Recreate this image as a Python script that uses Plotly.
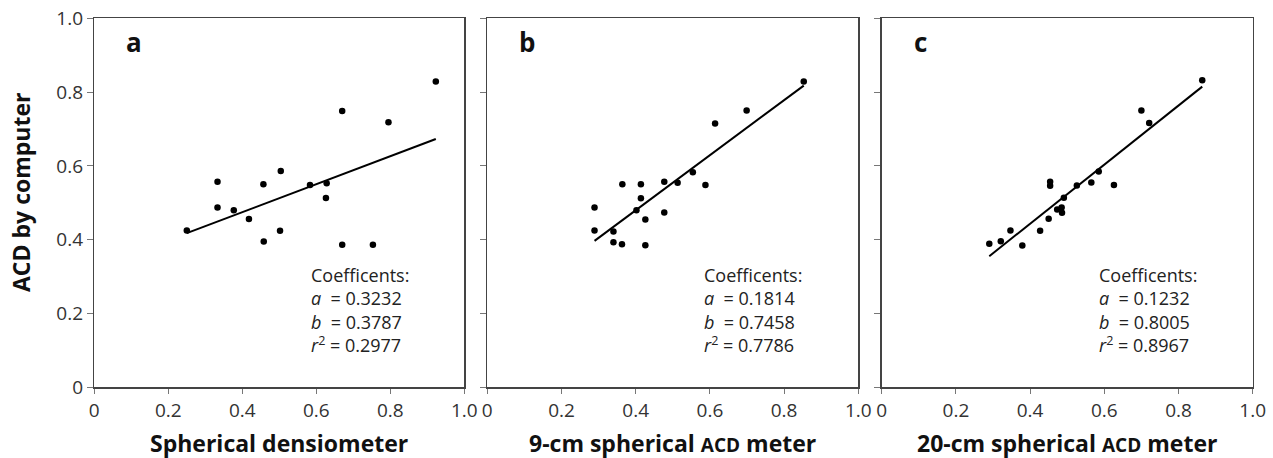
import plotly.graph_objects as go

# ---------------- data ----------------
panel_letters = ["a", "b", "c"]
x_titles = ["Spherical densiometer",
            "9-cm spherical <span style=\"font-size:19px\">ACD</span> meter",
            "20-cm spherical <span style=\"font-size:19px\">ACD</span> meter"]
y_title = "ACD by computer"
tick_vals = [0, 0.2, 0.4, 0.6, 0.8, 1.0]
tick_text = ["0", "0.2", "0.4", "0.6", "0.8", "1.0"]

coef_a = [0.3232, 0.1814, 0.1232]
coef_b = [0.3787, 0.7458, 0.8005]
coef_r2 = [0.2977, 0.7786, 0.8967]

xa = [0.250, 0.333, 0.333, 0.377, 0.418, 0.457, 0.458, 0.504, 0.502,
      0.583, 0.628, 0.626, 0.670, 0.670, 0.753, 0.795, 0.923]
ya = [0.425, 0.557, 0.487, 0.480, 0.456, 0.550, 0.395, 0.586, 0.424,
      0.548, 0.553, 0.513, 0.749, 0.386, 0.386, 0.718, 0.829]

xb = [0.289, 0.289, 0.340, 0.340, 0.364, 0.363, 0.414, 0.414, 0.402, 0.426,
      0.426, 0.477, 0.477, 0.513, 0.554, 0.588, 0.614, 0.699, 0.853]
yb = [0.487, 0.425, 0.422, 0.393, 0.550, 0.388, 0.550, 0.512, 0.480, 0.455,
      0.385, 0.557, 0.474, 0.554, 0.583, 0.548, 0.715, 0.750, 0.829]

xc = [0.290, 0.321, 0.347, 0.379, 0.427, 0.450, 0.454, 0.454, 0.473, 0.485,
      0.486, 0.491, 0.526, 0.565, 0.585, 0.626, 0.700, 0.721, 0.864]
yc = [0.389, 0.396, 0.425, 0.384, 0.424, 0.457, 0.557, 0.546, 0.482, 0.487,
      0.473, 0.514, 0.547, 0.555, 0.585, 0.548, 0.750, 0.716, 0.832]

xs = [xa, xb, xc]
ys = [ya, yb, yc]

# ---------------- layout ----------------
W, H = 1273, 458
FONT = "Open Sans"
x_doms = [(94.3, 464.3), (487.3, 858.3), (881.7, 1252.7)]
y_dom = [1 - 387.3 / H, 1 - 18.3 / H]

fig = go.Figure()
layout = dict(
    template="none",
    width=W, height=H, autosize=False,
    margin=dict(l=0, r=0, t=0, b=0, pad=0),
    paper_bgcolor="white", plot_bgcolor="white",
    showlegend=False,
    font=dict(family=FONT, color="#222222"),
)
annotations = []

for i in range(3):
    sx = "" if i == 0 else str(i + 1)
    xref, yref = "x" + sx, "y" + sx
    x = xs[i]
    y = ys[i]
    fig.add_trace(go.Scatter(
        x=x, y=y, mode="markers", xaxis=xref, yaxis=yref,
        marker=dict(color="black", size=6.5, line=dict(width=0)),
    ))
    lx = [min(x), max(x)]
    ly = [coef_a[i] + coef_b[i] * v for v in lx]
    fig.add_trace(go.Scatter(
        x=lx, y=ly, mode="lines", xaxis=xref, yaxis=yref,
        line=dict(color="black", width=2),
    ))
    d0, d1 = x_doms[i]
    layout["xaxis" + sx] = dict(
        domain=[d0 / W, d1 / W], range=[0, 1], anchor=yref,
        tickvals=tick_vals, ticktext=tick_text, tickmode="array",
        ticks="outside", ticklen=5, tickwidth=1, tickcolor="#777777",
        showline=True, linecolor="#444444", linewidth=1.5, mirror=True,
        showgrid=False, zeroline=False, automargin=False,
        tickfont=dict(family=FONT, size=19, color="#333333"),
        fixedrange=True,
    )
    yax = dict(
        domain=y_dom, range=[0, 1], anchor=xref,
        tickvals=tick_vals, tickmode="array",
        showticklabels=(i == 0),
        ticks="outside", ticklen=6, tickwidth=1, tickcolor="#777777",
        showline=True, linecolor="#444444", linewidth=1.5, mirror=True,
        showgrid=False, zeroline=False, automargin=False,
        tickfont=dict(family=FONT, size=19, color="#333333"),
        fixedrange=True,
    )
    if i == 0:
        yax["ticktext"] = tick_text
    layout["yaxis" + sx] = yax
    # panel letter
    annotations.append(dict(
        x=(d0 + 30) / W, y=1 - 42 / H, xref="paper", yref="paper",
        xanchor="left", yanchor="middle", showarrow=False,
        text="<b>" + panel_letters[i] + "</b>",
        font=dict(family=FONT, size=26, color="#111111"),
    ))
    # coefficients block
    txt = ("Coefficents:<br>"
           "<i>a</i>  = {:.4f}<br>"
           "<i>b</i>  = {:.4f}<br>"
           "<i>r</i><sup>2</sup> = {:.4f}").format(coef_a[i], coef_b[i], coef_r2[i])
    annotations.append(dict(
        x=(d0 + 215) / W, y=1 - 310 / H, xref="paper", yref="paper",
        xanchor="left", yanchor="middle", align="left", showarrow=False,
        text=txt, font=dict(family=FONT, size=18, color="#222222"),
    ))
    # x title
    annotations.append(dict(
        x=(d0 + d1) / 2 / W, y=1 - 443 / H, xref="paper", yref="paper",
        xanchor="center", yanchor="middle", showarrow=False,
        text="<b>" + x_titles[i] + "</b>",
        font=dict(family=FONT, size=23, color="#111111"),
    ))

annotations.append(dict(
    x=21 / W, y=1 - 193 / H, xref="paper", yref="paper",
    xanchor="center", yanchor="middle", showarrow=False, textangle=-90,
    text="<b>" + y_title + "</b>",
    font=dict(family=FONT, size=23, color="#111111"),
))

layout["annotations"] = annotations
fig.update_layout(**layout)
fig.write_html("out.html",
               config={"displayModeBar": False, "staticPlot": True},
               post_script="document.body.style.margin='0';"
                           "document.body.style.padding='0';"
                           "document.body.style.overflow='hidden';")
